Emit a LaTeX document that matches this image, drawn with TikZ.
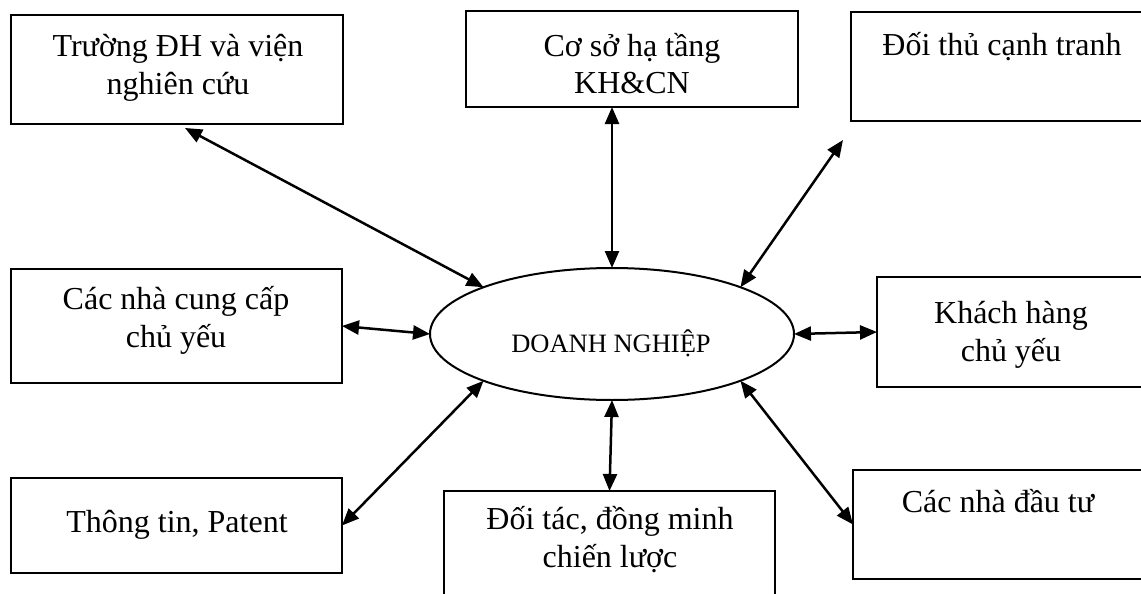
\documentclass[tikz,border=0pt]{standalone}
\usepackage{fontspec}
\setmainfont{Liberation Serif}
\usetikzlibrary{arrows.meta,shapes.geometric,calc}
\newcommand{\mytop}{\rule{0pt}{30pt}}
\newcommand{\mybot}{\rule[-10pt]{0pt}{10pt}}
\begin{document}
\begin{tikzpicture}[x=1pt,y=-1pt,
  boxst/.style={draw, line width=2.1pt, rectangle, inner sep=0pt, outer sep=0pt},
  lbl/.style={font={\fontsize{32}{38}\selectfont\lineskiplimit=-100pt}, align=center, inner sep=0pt},
  conn/.style={line width=2.5pt, {Triangle[length=17pt,width=14pt]}-{Triangle[length=17pt,width=14pt]}}]
\useasboundingbox (0,0) rectangle (1141,594);
\fill[white] (0,0) rectangle (1141,594);
% boxes
\node[boxst, minimum width=332, minimum height=109] (trg) at (177,69.5) {};
\node[boxst, minimum width=332, minimum height=96] (csh) at (632,59) {};
\node[boxst, minimum width=302, minimum height=109] (dtc) at (1002,66.5) {};
\node[boxst, minimum width=331, minimum height=114] (ncc) at (176.5,326) {};
\node[boxst, minimum width=268, minimum height=110] (kh) at (1011,332) {};
\node[boxst, minimum width=331, minimum height=95] (tt) at (176.5,525.5) {};
\node[boxst, minimum width=331, minimum height=149] (dtac) at (609.5,565.5) {};
\node[boxst, minimum width=290, minimum height=109] (ndt) at (998,524.5) {};
\node[draw, ellipse, line width=2pt, inner sep=0pt, outer sep=0pt, minimum width=364, minimum height=132] (doan) at (612,334) {};
% texts
\node[lbl] (ttrg) at (178,66) {\mytop Trường ĐH và viện\\nghiên cứu\mybot};
\node[lbl] (tcsh) at (632,65) {\mytop Cơ sở hạ tầng\\KH\&CN\mybot};
\node[lbl] (tdtc) at (1002,46) {\mytop Đối thủ cạnh tranh\mybot};
\node[lbl] (tncc) at (176,318) {\mytop Các nhà cung cấp\\chủ yếu\mybot};
\node[lbl] (tkh) at (1011,332) {\mytop Khách hàng\\chủ yếu\mybot};
\node[lbl] (ttt) at (177,522) {\mytop Thông tin, Patent\mybot};
\node[lbl] (tdtac) at (610,538) {\mytop Đối tác, đồng minh\\chiến lược\mybot};
\node[lbl] (tndt) at (998,502) {\mytop Các nhà đầu tư\mybot};
\node[lbl, font={\fontsize{26.5}{30}\selectfont}] (tdoan) at (611,342) {\mytop DOANH NGHIỆP\mybot};
% connectors
\draw[conn] (doan.160) -- ($(trg.south)+(8,4)$);
\draw[conn] (doan.north) -- (doan.north |- csh.south);
\draw[conn] (doan.20) -- ($(dtc.south west)+(-8,19)$);
\draw[conn] (doan.west) -- (ncc.east);
\draw[conn] (doan.east) -- (kh.west);
\draw[conn] (doan.200) -- (tt.east);
\draw[conn] (doan.south) -- (dtac.north);
\draw[conn] (doan.340) -- (ndt.west);
\end{tikzpicture}
\end{document}
